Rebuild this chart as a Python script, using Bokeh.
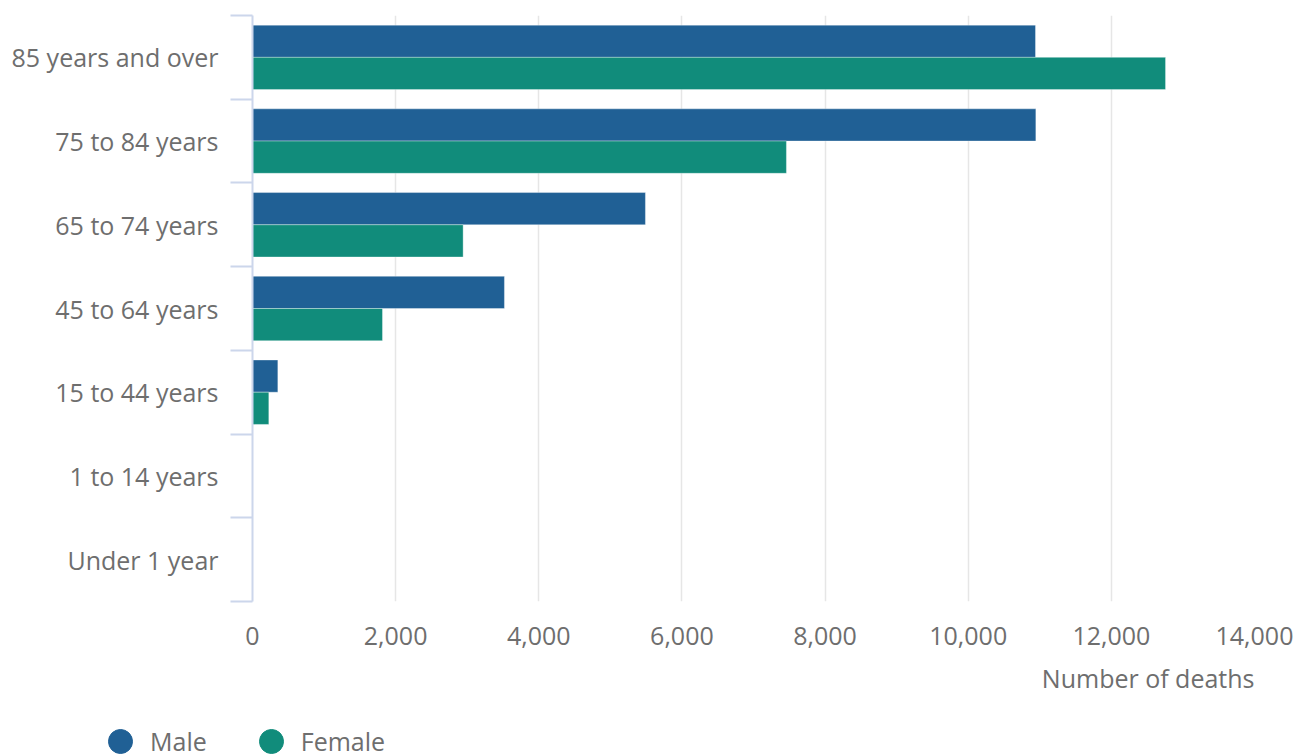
from bokeh.plotting import figure
from bokeh.layouts import column
from bokeh.models import (ColumnDataSource, FixedTicker, NumeralTickFormatter, Legend, LegendItem,
                          Range1d, Title)
from bokeh.transform import dodge
from bokeh.embed import file_html
from bokeh.resources import INLINE

# Data (bottom to top)
categories = ["Under 1 year", "1 to 14 years", "15 to 44 years", "45 to 64 years",
              "65 to 74 years", "75 to 84 years", "85 years and over"]
male = [0, 0, 354, 3520, 5490, 10945, 10940]
female = [0, 0, 228, 1816, 2943, 7460, 12757]
x_ticks = [0, 2000, 4000, 6000, 8000, 10000, 12000, 14000]
series_names = ["Male", "Female"]

MALE_C = "#206095"
FEMALE_C = "#118c7b"
TEXT_C = "#6e6e6e"
FONT = "Open Sans"

centers = [i + 0.5 for i in range(len(categories))]
src = ColumnDataSource(dict(y=centers, male=male, female=female, cat=categories))

p = figure(width=1296, height=718, output_backend="svg", toolbar_location=None,
           x_range=Range1d(0, 14000), y_range=Range1d(0, len(categories)),
           min_border_left=252, min_border_right=42, min_border_top=15, min_border_bottom=117)
p.outline_line_color = None
p.background_fill_color = "white"

bh = 0.385
p.hbar(y=dodge("y", bh / 2, range=p.y_range), left=0, right="male", height=bh, source=src,
       fill_color=MALE_C, line_color="white", line_alpha=0.35, line_width=1)
p.hbar(y=dodge("y", -bh / 2, range=p.y_range), left=0, right="female", height=bh, source=src,
       fill_color=FEMALE_C, line_color="white", line_alpha=0.35, line_width=1)

# x axis
xa = p.xaxis[0]
xa.ticker = FixedTicker(ticks=x_ticks)
xa.formatter = NumeralTickFormatter(format="0,0")
xa.axis_line_color = None
xa.major_tick_line_color = None
xa.minor_tick_line_color = None
xa.major_tick_out = 0
xa.major_tick_in = 0
xa.minor_tick_out = 0
xa.minor_tick_in = 0
xa.major_label_standoff = 25
xa.major_label_text_font = FONT
xa.major_label_text_font_size = "25px"
xa.major_label_text_color = TEXT_C

# axis title, right aligned under the axis
xt = Title(text="Number of deaths", align="right", standoff=23,
           text_font=FONT, text_font_size="25px", text_font_style="normal", text_color=TEXT_C)
p.add_layout(xt, "below")

# y axis: labels at centres, ticks at boundaries
ya = p.yaxis[0]
ya.ticker = FixedTicker(ticks=centers, minor_ticks=list(range(len(categories) + 1)))
ya.major_label_overrides = {c: lab for c, lab in zip(centers, categories)}
ya.major_tick_line_color = None
ya.major_tick_out = 0
ya.major_tick_in = 0
ya.minor_tick_out = 22
ya.minor_tick_in = 0
ya.minor_tick_line_color = "#ccd6eb"
ya.minor_tick_line_width = 2
ya.axis_line_color = "#ccd6eb"
ya.axis_line_width = 2
ya.major_label_standoff = 12
ya.major_label_text_font = FONT
ya.major_label_text_font_size = "25px"
ya.major_label_text_color = TEXT_C

p.ygrid.grid_line_color = None
p.xgrid.grid_line_color = "#e6e6e6"
p.xgrid.grid_line_width = 1.5
p.xgrid.ticker = FixedTicker(ticks=x_ticks[1:])

# legend strip below the chart
lg = figure(width=1296, height=38, output_backend="svg", toolbar_location=None,
            x_range=Range1d(0, 1), y_range=Range1d(0, 1), x_axis_type=None, y_axis_type=None,
            min_border_left=0, min_border_right=0, min_border_top=0, min_border_bottom=0)
lg.frame_align = False
lg.outline_line_color = None
lg.xgrid.visible = False
lg.ygrid.visible = False
nan = float("nan")
lm = lg.scatter(x=[nan], y=[nan], marker="circle", size=10, fill_color=MALE_C, line_color=MALE_C)
lf = lg.scatter(x=[nan], y=[nan], marker="circle", size=10, fill_color=FEMALE_C, line_color=FEMALE_C)
legend = Legend(items=[LegendItem(label=series_names[0], renderers=[lm]),
                       LegendItem(label=series_names[1], renderers=[lf])],
                orientation="horizontal", location=(90, -18),
                glyph_width=60, glyph_height=66, label_standoff=0, spacing=34,
                padding=0, margin=0, border_line_color=None, background_fill_alpha=0,
                label_text_font=FONT, label_text_font_size="25px", label_text_color=TEXT_C)
lg.add_layout(legend, "center")

open("out.html", "w").write(file_html(column(p, lg, spacing=0), INLINE))
